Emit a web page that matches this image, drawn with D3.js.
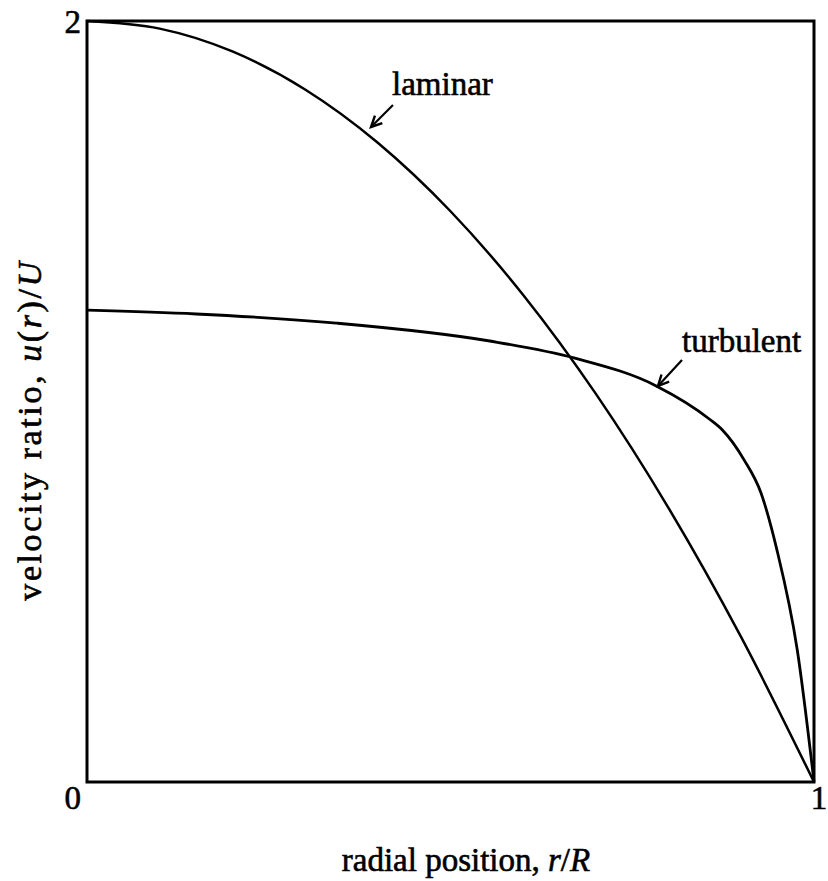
<!DOCTYPE html>
<html>
<head>
<meta charset="utf-8">
<script src="https://cdn.jsdelivr.net/npm/d3@7"></script>
<style>
  body { margin: 0; background: #fff; }
  svg text { font-family: "Liberation Serif", "DejaVu Serif", serif; fill: #000; stroke: #000; stroke-width: 0.6; }
</style>
</head>
<body>
<svg id="chart" width="828" height="881"></svg>
<script>
// values
var laminarR = [0, 0.1, 0.2, 0.3, 0.4, 0.5, 0.6, 0.7, 0.8, 0.9, 1]
var laminarU = [2.00, 1.98, 1.92, 1.82, 1.68, 1.50, 1.28, 1.02, 0.72, 0.38, 0]

var turbR = [0, 0.15, 0.343, 0.554, 0.671, 0.783, 0.856, 0.874, 0.904, 0.927, 0.949, 0.977, 1]
var turbU = [1.240, 1.230, 1.206, 1.159, 1.114, 1.041, 0.954, 0.925, 0.846, 0.760, 0.610, 0.347, 0]

var xTicks = [0, 1]
var yTicks = [0, 2]

var svg = d3.select('#chart')
var m = {left: 87, right: 814, top: 21, bottom: 782}

var x = d3.scaleLinear().domain([0, 1]).range([m.left, m.right])
var y = d3.scaleLinear().domain([0, 2]).range([m.bottom, m.top])

// curves
var line = d3.line()
    .x(d => x(d[0]))
    .y(d => y(d[1]))

svg.append('path')
    .datum(d3.zip(laminarR, laminarU))
    .attr('d', line.curve(d3.curveMonotoneX))
    .attr('fill', 'none')
    .attr('stroke', '#000')
    .attr('stroke-width', 2.5)

svg.append('path')
    .datum(d3.zip(turbR, turbU))
    .attr('d', line.curve(d3.curveMonotoneX))
    .attr('fill', 'none')
    .attr('stroke', '#000')
    .attr('stroke-width', 2.8)

// frame
svg.append('rect')
    .attr('x', m.left)
    .attr('y', m.top)
    .attr('width', m.right - m.left)
    .attr('height', m.bottom - m.top)
    .attr('fill', 'none')
    .attr('stroke', '#000')
    .attr('stroke-width', 3)

// tick labels
svg.selectAll('.ytick')
    .data(yTicks)
    .enter().append('text')
    .attr('class', 'ytick')
    .attr('x', m.left - 6)
    .attr('y', d => d === 0 ? y(d) + 27 : y(d) + 12)
    .attr('text-anchor', 'end')
    .style('font-size', '33px')
    .text(d => d)

svg.selectAll('.xtick')
    .data(xTicks.filter(d => d !== 0))
    .enter().append('text')
    .attr('class', 'xtick')
    .attr('x', d => x(d) + 5)
    .attr('y', m.bottom + 27)
    .attr('text-anchor', 'middle')
    .style('font-size', '33px')
    .text(d => d)

// axis titles
var xt = svg.append('text')
    .attr('x', 466)
    .attr('y', 871)
    .attr('text-anchor', 'middle')
    .style('font-size', '33px')
xt.append('tspan').text('radial position, ')
xt.append('tspan').style('font-style', 'italic').text('r')
xt.append('tspan').text('/')
xt.append('tspan').style('font-style', 'italic').text('R')

var yt = svg.append('text')
    .attr('transform', 'translate(41,430) rotate(-90)')
    .attr('text-anchor', 'middle')
    .style('font-size', '34px')
    .style('letter-spacing', '2.6px')
yt.append('tspan').text('velocity ratio, ')
yt.append('tspan').style('font-style', 'italic').text('u')
yt.append('tspan').text('(')
yt.append('tspan').style('font-style', 'italic').text('r')
yt.append('tspan').text(')/')
yt.append('tspan').style('font-style', 'italic').text('U')

// annotations with arrows
function arrow (x1, y1, x2, y2) {
  svg.append('line')
      .attr('x1', x1).attr('y1', y1)
      .attr('x2', x2).attr('y2', y2)
      .attr('stroke', '#000')
      .attr('stroke-width', 2.2)
  var a = Math.atan2(y2 - y1, x2 - x1)
  var len = 12
  var spread = 0.45
  var p1 = [x2 - len * Math.cos(a - spread), y2 - len * Math.sin(a - spread)]
  var p2 = [x2 - len * Math.cos(a + spread), y2 - len * Math.sin(a + spread)]
  svg.append('path')
      .attr('d', `M${p1[0]},${p1[1]}L${x2},${y2}L${p2[0]},${p2[1]}`)
      .attr('fill', 'none')
      .attr('stroke', '#000')
      .attr('stroke-width', 2.4)
}

svg.append('text')
    .attr('x', 392)
    .attr('y', 95)
    .style('font-size', '33px')
    .text('laminar')
arrow(393, 105, 371, 127)

svg.append('text')
    .attr('x', 682)
    .attr('y', 352)
    .style('font-size', '33px')
    .text('turbulent')
arrow(682, 360, 658, 386)
</script>
</body>
</html>
